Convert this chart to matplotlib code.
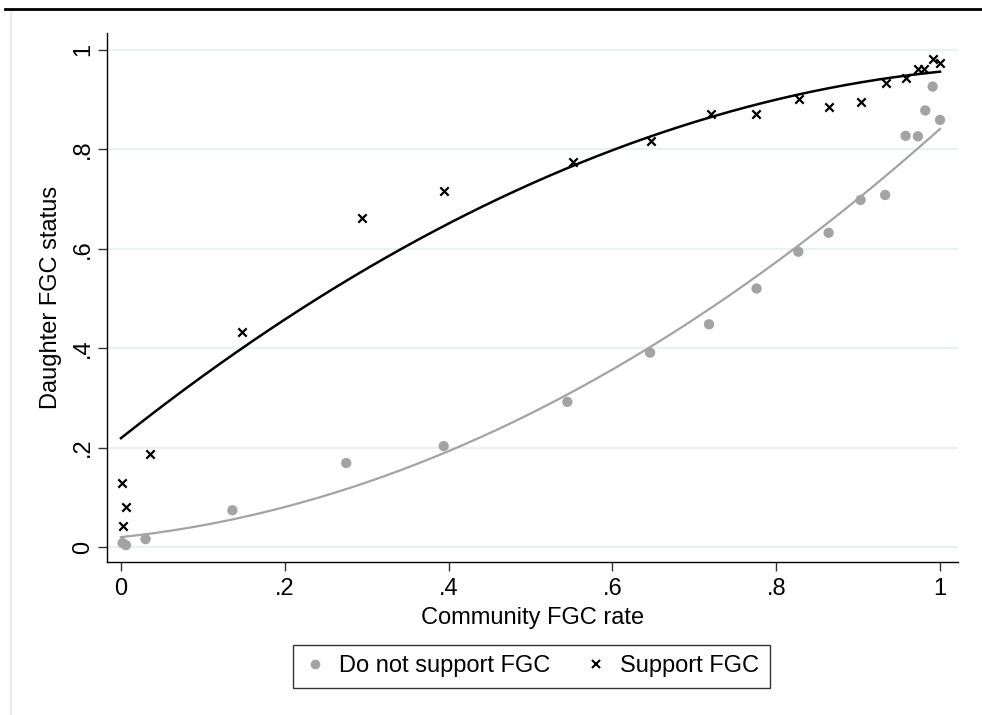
import numpy as np
import matplotlib
matplotlib.use("Agg")
import matplotlib.pyplot as plt
from matplotlib.lines import Line2D
from matplotlib.patches import Rectangle

plt.rcParams['font.family'] = ['Liberation Sans', 'DejaVu Sans']

# binned scatter: daughter FGC status vs community FGC rate
no_support_x = [0.002, 0.006, 0.030, 0.136, 0.275, 0.394, 0.545, 0.646, 0.718, 0.776,
                0.827, 0.864, 0.903, 0.933, 0.958, 0.973, 0.982, 0.991, 1.000]
no_support_y = [0.008, 0.004, 0.016, 0.074, 0.169, 0.203, 0.292, 0.391, 0.448, 0.520,
                0.594, 0.632, 0.698, 0.708, 0.827, 0.826, 0.878, 0.926, 0.859]

support_x = [0.001, 0.006, 0.002, 0.035, 0.148, 0.294, 0.394, 0.552, 0.647, 0.720,
             0.775, 0.828, 0.864, 0.904, 0.934, 0.958, 0.973, 0.980, 0.991, 1.000]
support_y = [0.129, 0.080, 0.042, 0.187, 0.433, 0.661, 0.716, 0.774, 0.817, 0.870,
             0.871, 0.901, 0.885, 0.895, 0.933, 0.943, 0.961, 0.961, 0.981, 0.974]

# quadratic fit coefficients (x^2, x, const)
# (fitted on the underlying micro data, not on the bin means)
no_support_fit = [0.648, 0.173, 0.020]
support_fit = [-0.570, 1.307, 0.219]

xticks = [0, 0.2, 0.4, 0.6, 0.8, 1]
xtick_labels = ["0", ".2", ".4", ".6", ".8", "1"]
yticks = [0, 0.2, 0.4, 0.6, 0.8, 1]
ytick_labels = ["0", ".2", ".4", ".6", ".8", "1"]

gray = '#a3a3a3'
grid_col = '#eaf1f3'
fs = 17

fig = plt.figure(figsize=(9.82, 7.15), dpi=100)
ax = fig.add_axes([0.109, 0.214, 0.8666, 0.740])

ax.set_xlim(-0.017, 1.022)
ax.set_ylim(-0.030, 1.034)

xs = np.linspace(0, 1, 200)
ax.plot(xs, np.polyval(no_support_fit, xs), color=gray, lw=1.6, zorder=3)
ax.plot(xs, np.polyval(support_fit, xs), color='black', lw=1.8, zorder=3)

ax.scatter(no_support_x, no_support_y, s=55, color=gray, edgecolors='none', zorder=4,
           label='Do not support FGC')
ax.scatter(support_x, support_y, s=36, marker='x', color='black', linewidths=1.6, zorder=4,
           label='Support FGC')

ax.set_yticks(yticks)
ax.set_yticklabels(ytick_labels, rotation=90, va='center')
ax.set_xticks(xticks)
ax.set_xticklabels(xtick_labels)
ax.tick_params(axis='both', length=6.5, width=1, color='#333333', labelsize=fs)
ax.tick_params(axis='x', pad=5)
ax.tick_params(axis='y', pad=3)
ax.grid(axis='y', color=grid_col, lw=1.5)
ax.set_axisbelow(True)
for s in ['top', 'right']:
    ax.spines[s].set_visible(False)
for s in ['left', 'bottom']:
    ax.spines[s].set_color('black')
    ax.spines[s].set_linewidth(1.0)

ax.set_xlabel('Community FGC rate', fontsize=fs, labelpad=5)
ax.set_ylabel('Daughter FGC status', fontsize=fs, labelpad=7)

leg = fig.legend(handles=[
    Line2D([], [], marker='o', ls='none', color=gray, markersize=7, markeredgewidth=0),
    Line2D([], [], marker='x', ls='none', color='black', markersize=5.5, markeredgewidth=1.5)],
    labels=['Do not support FGC', 'Support FGC'],
    loc='center', bbox_to_anchor=(0.541, 0.068), ncol=2, fontsize=fs,
    frameon=True, fancybox=False, edgecolor='black', columnspacing=1.45,
    handletextpad=0.5, handlelength=1.0, borderpad=0.45)
leg.get_frame().set_linewidth(1.0)

# graph region outline and the rule at the top of the page
fig.add_artist(Rectangle((0.011, -0.01), 1.0, 0.996, transform=fig.transFigure,
                         fill=False, edgecolor='#e6eef0', lw=1.5))
fig.add_artist(Line2D([0.005, 1.0], [0.988, 0.988], transform=fig.transFigure,
                      color='black', lw=2))

fig.savefig('out.png', dpi=100, facecolor='white')
